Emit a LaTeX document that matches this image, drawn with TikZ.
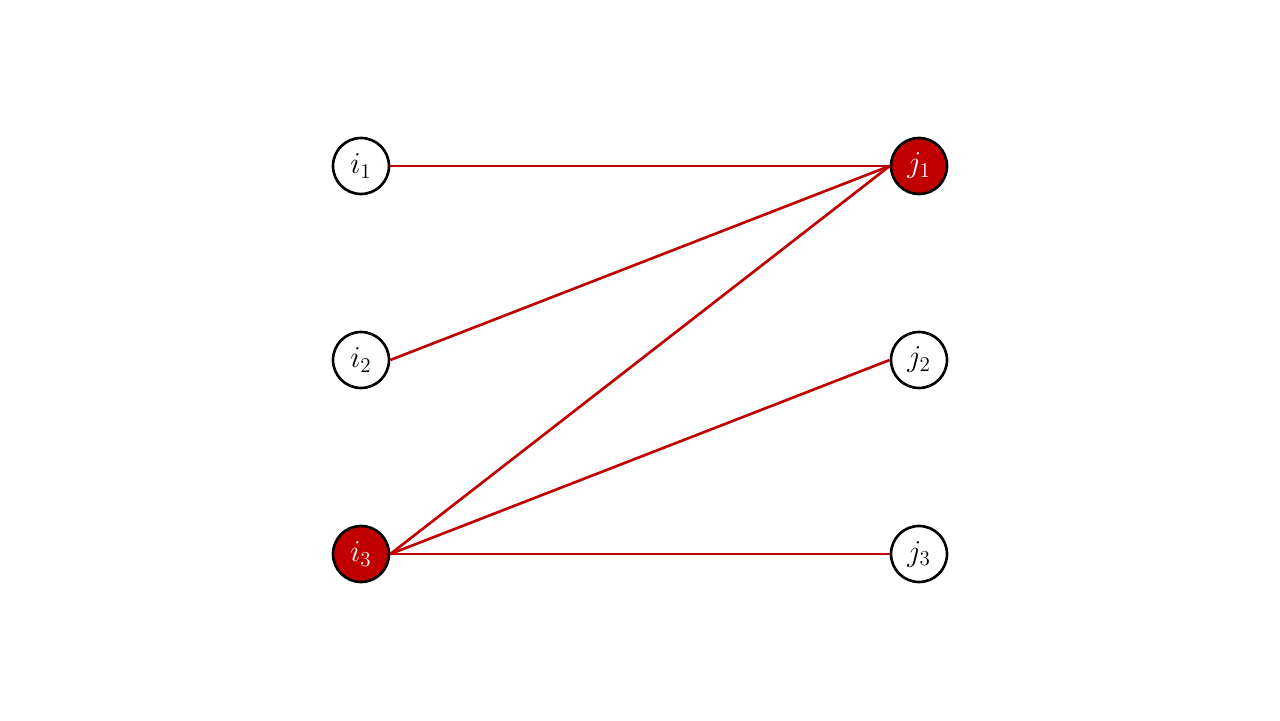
\documentclass[tikz,border=0pt]{standalone}
\usepackage{xcolor}
\definecolor{matchred}{HTML}{C00000}
\tikzset{
  vertex/.style={circle, draw=black, line width=1.5pt, fill=white, minimum size=1.12cm, inner sep=0pt, font=\LARGE},
  matched/.style={vertex, fill=matchred, text=white},
  edge/.style={matchred, line width=1.5pt}
}
\begin{document}
\begin{tikzpicture}
  \useasboundingbox (0,0) rectangle (25.6,14.4);

  % left vertices
  \node[vertex]  (i1) at (7.22,11.08) {$i_1$};
  \node[vertex]  (i2) at (7.22,7.2)   {$i_2$};
  \node[matched] (i3) at (7.22,3.32)  {$i_3$};

  % right vertices
  \node[matched] (j1) at (18.38,11.08) {$j_1$};
  \node[vertex]  (j2) at (18.38,7.2)   {$j_2$};
  \node[vertex]  (j3) at (18.38,3.32)  {$j_3$};

  % edges
  \draw[edge] (i1.east) -- (j1.west);
  \draw[edge] (i2.east) -- (j1.west);
  \draw[edge] (i3.east) -- (j1.west);
  \draw[edge] (i3.east) -- (j2.west);
  \draw[edge] (i3.east) -- (j3.west);
\end{tikzpicture}
\end{document}
